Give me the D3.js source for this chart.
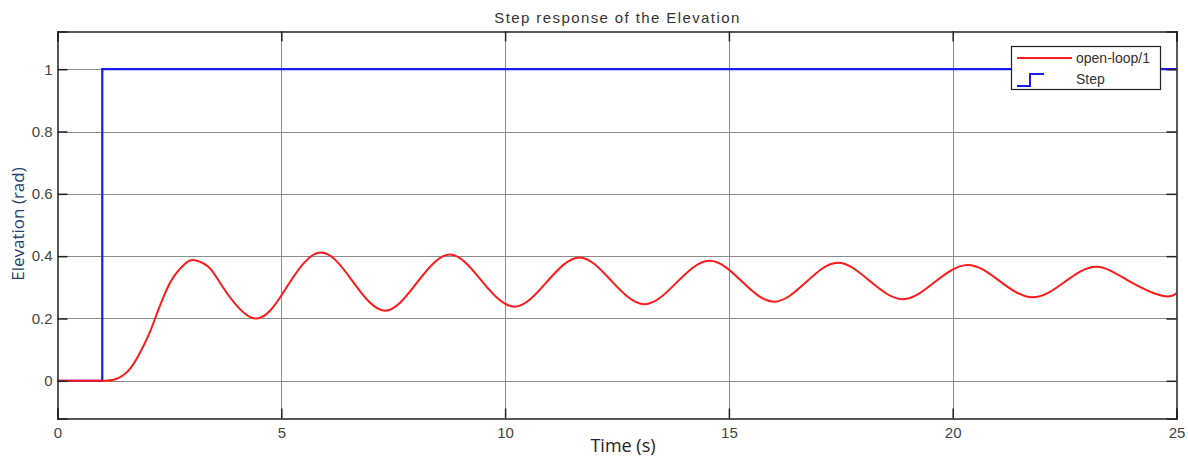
<!DOCTYPE html>
<html>
<head>
<meta charset="utf-8">
<script src="https://cdn.jsdelivr.net/npm/d3@7"></script>
<style>
  body { margin: 0; background: #fff; }
  svg { display: block; }
</style>
</head>
<body>
<div class="container"></div>
<script>
// step input (time, value)
var stepTime = [0, 1, 1, 25];
var stepValue = [0, 0, 1, 1];

// open-loop/1 response
var respTime = [0, 1, 1.29, 1.58, 1.81, 2.03, 2.18, 2.4, 2.62, 2.85, 3.06, 3.37, 3.67, 4.41, 5.14, 5.87, 6.59, 7.31, 8.03, 8.76, 9.48, 10.21, 10.93, 11.66, 12.38, 13.11, 13.83, 14.56, 15.28, 16.0, 16.72, 17.43, 18.15, 18.88, 19.6, 20.33, 21.05, 21.78, 22.5, 23.2, 23.94, 24.68, 25];
var respValue = [0, 0, 0.005, 0.032, 0.081, 0.145, 0.2, 0.28, 0.339, 0.376, 0.387, 0.366, 0.306, 0.2, 0.305, 0.412, 0.32, 0.225, 0.315, 0.405, 0.32, 0.238, 0.317, 0.396, 0.32, 0.246, 0.315, 0.385, 0.32, 0.254, 0.316, 0.379, 0.32, 0.262, 0.317, 0.372, 0.32, 0.268, 0.317, 0.366, 0.32, 0.273, 0.281];

var xTicks = [0, 5, 10, 15, 20, 25];
var yTicks = [0, 0.2, 0.4, 0.6, 0.8, 1];
var seriesNames = ["open-loop/1", "Step"];

var width = 1188, height = 457;
// plot box edges (window.top is reserved, so prefixed names)
var plotLeft = 57.5, plotRight = 1176.5, plotTop = 31.5, plotBottom = 418.5;

var svg = d3.select(".container").append("svg")
    .attr("width", width)
    .attr("height", height);

var x = d3.scaleLinear().domain([0, 25]).range([plotLeft, plotRight]);
var y = d3.scaleLinear().domain([-0.121, 1.121]).range([plotBottom, plotTop]);

// grid
var grid = svg.append("g").attr("stroke", "#8c8c8c").attr("stroke-width", 1);
grid.selectAll(".gx").data(xTicks.slice(1, -1)).enter().append("line")
    .attr("x1", function(d) { return Math.round(x(d)) + 0.5; })
    .attr("x2", function(d) { return Math.round(x(d)) + 0.5; })
    .attr("y1", plotTop).attr("y2", plotBottom);
grid.selectAll(".gy").data(yTicks).enter().append("line")
    .attr("y1", function(d) { return Math.round(y(d)) + 0.5; })
    .attr("y2", function(d) { return Math.round(y(d)) + 0.5; })
    .attr("x1", plotLeft).attr("x2", plotRight);

// step line
var stepData = stepTime.map(function(t, i) { return [t, stepValue[i]]; });
svg.append("path")
    .datum(stepData)
    .attr("fill", "none")
    .attr("stroke", "#1a1aff")
    .attr("stroke-width", 2.2)
    .attr("d", d3.line().x(function(d) { return x(d[0]); }).y(function(d) { return y(d[1]); }));

// response curve: flat part until the step, then a smooth spline
var respData = respTime.map(function(t, i) { return [t, respValue[i]]; });
var flat = respData.filter(function(d) { return d[0] <= 1; });
var moving = respData.filter(function(d) { return d[0] >= 1; });
var lineFlat = d3.line().x(function(d) { return x(d[0]); }).y(function(d) { return y(d[1]); });
var lineSmooth = d3.line().curve(d3.curveNatural)
    .x(function(d) { return x(d[0]); }).y(function(d) { return y(d[1]); });
svg.append("path")
    .attr("fill", "none")
    .attr("stroke", "#ff1a1a")
    .attr("stroke-width", 2)
    .attr("stroke-linejoin", "round")
    .attr("d", lineFlat(flat) + lineSmooth(moving).replace(/^M/, "L"));

// axes with inner ticks on all four sides
var fmt = function(d) { return d3.format("")(d); };
var xb = svg.append("g").attr("transform", "translate(0," + plotBottom + ")")
    .call(d3.axisBottom(x).tickValues(xTicks).tickSize(-10).tickPadding(9).tickFormat(fmt));
var xt = svg.append("g").attr("transform", "translate(0," + plotTop + ")")
    .call(d3.axisTop(x).tickValues(xTicks).tickSize(-10).tickFormat(""));
var yl = svg.append("g").attr("transform", "translate(" + plotLeft + ",0)")
    .call(d3.axisLeft(y).tickValues(yTicks).tickSize(-10).tickPadding(5).tickFormat(fmt));
var yr = svg.append("g").attr("transform", "translate(" + plotRight + ",0)")
    .call(d3.axisRight(y).tickValues(yTicks).tickSize(-10).tickFormat(""));

[xb, xt, yl, yr].forEach(function(g) {
    g.select(".domain").attr("stroke", "#222").attr("stroke-width", 1.5);
    g.selectAll(".tick line").attr("stroke", "#222").attr("stroke-width", 1.5);
    g.selectAll(".tick text")
        .attr("fill", "#444")
        .style("font-family", "Liberation Sans, Arial, sans-serif")
        .style("font-size", "15px");
});

// title
svg.append("text")
    .attr("x", 617.5).attr("y", 23)
    .attr("text-anchor", "middle")
    .attr("fill", "#333")
    .style("font-family", "Liberation Sans, Arial, sans-serif")
    .style("font-size", "15px")
    .style("letter-spacing", "1.4px")
    .text("Step response of the Elevation");

// axis labels
svg.append("text")
    .attr("x", 623).attr("y", 452)
    .attr("text-anchor", "middle")
    .attr("fill", "#222")
    .style("font-family", "Open Sans, sans-serif")
    .style("font-size", "18px")
    .text("Time (s)");

svg.append("text")
    .attr("transform", "translate(24,224) rotate(-90)")
    .attr("text-anchor", "middle")
    .attr("fill", "#24406e")
    .style("font-family", "Open Sans, sans-serif")
    .style("font-size", "17px")
    .text("Elevation (rad)");

// legend
var lg = svg.append("g");
lg.append("rect")
    .attr("x", 1011.5).attr("y", 46.5)
    .attr("width", 149).attr("height", 43)
    .attr("fill", "#fff")
    .attr("stroke", "#222")
    .attr("stroke-width", 1.2);
lg.append("line")
    .attr("x1", 1017).attr("x2", 1072)
    .attr("y1", 58).attr("y2", 58)
    .attr("stroke", "#ff1a1a").attr("stroke-width", 2);
lg.append("path")
    .attr("d", "M1017,86H1030V74H1044")
    .attr("fill", "none")
    .attr("stroke", "#1a1aff").attr("stroke-width", 2);
lg.selectAll("text").data(seriesNames).enter().append("text")
    .attr("x", 1076)
    .attr("y", function(d, i) { return 63 + i * 21; })
    .attr("fill", "#333")
    .style("font-family", "Liberation Sans, Arial, sans-serif")
    .style("font-size", "14px")
    .text(function(d) { return d; });
</script>
</body>
</html>
